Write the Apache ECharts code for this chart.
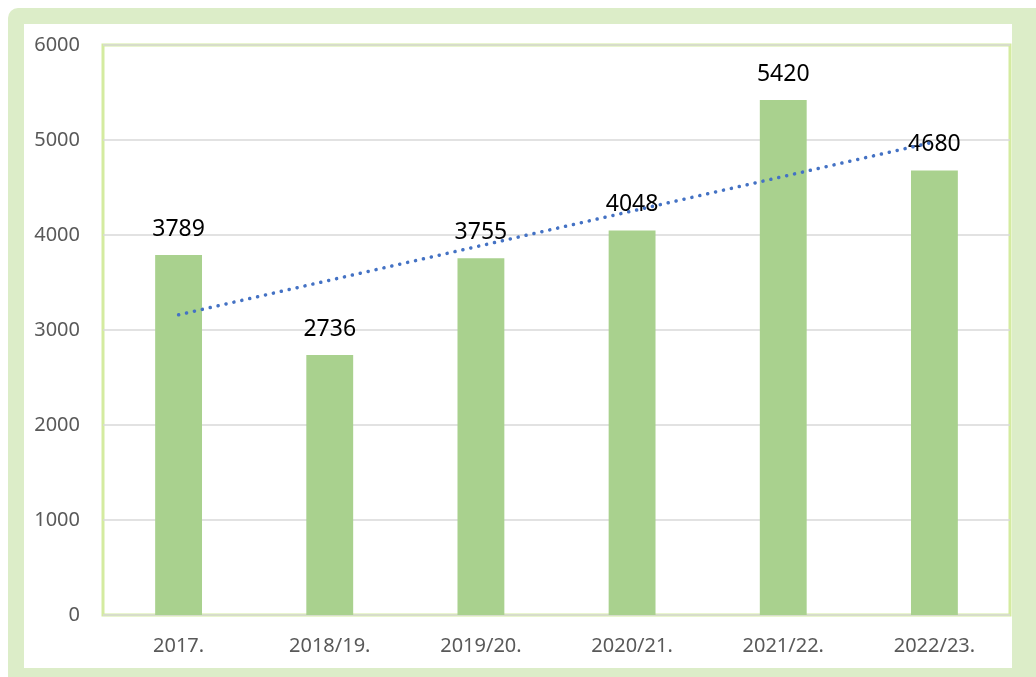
<!DOCTYPE html>
<html>
<head>
<meta charset="utf-8">
<script src="https://cdn.jsdelivr.net/npm/echarts@6/dist/echarts.min.js"></script>
<style>
  html, body { margin: 0; padding: 0; background: #ffffff; overflow: hidden; }
  .frame {
    position: absolute; left: 8px; top: 8px; width: 1040px; height: 680px;
    background: #dcedc8; border-top-left-radius: 10px;
  }
  .inner {
    position: absolute; left: 24px; top: 24px; width: 988px; height: 644px;
    background: #ffffff;
  }
  #chart { position: absolute; left: 0; top: 0; width: 1036px; height: 677px; }
</style>
</head>
<body>
<div class="frame"></div>
<div class="inner"></div>
<div id="chart"></div>
<script>
  // data
  var years = ['2017.', '2018/19.', '2019/20.', '2020/21.', '2021/22.', '2022/23.']
  var counts = [3789, 2736, 3755, 4048, 5420, 4680]
  // linear trend, start and end values
  var trendEnds = [3160, 4980]

  var chart = echarts.init(document.getElementById('chart'))
  var option = {
    animation: false,
    backgroundColor: 'transparent',
    grid: {
      left: 103, top: 45, width: 907, height: 570,
      show: true,
      borderColor: '#d4eba0',
      borderWidth: 3,
      backgroundColor: 'transparent'
    },
    xAxis: {
      type: 'category',
      data: years,
      axisLine: { show: false },
      axisTick: { show: false },
      axisLabel: {
        color: '#595959',
        fontSize: 20,
        fontFamily: 'Noto Sans',
        margin: 21
      }
    },
    yAxis: {
      type: 'value',
      min: 0,
      max: 6000,
      interval: 1000,
      axisLine: { show: false },
      axisTick: { show: false },
      axisLabel: {
        color: '#595959',
        fontSize: 20,
        fontFamily: 'Noto Sans',
        margin: 23,
        formatter: function (v) { return String(v) }
      },
      splitLine: { lineStyle: { color: '#d9d9d9', width: 1.5 } }
    },
    series: [
      {
        type: 'bar',
        data: counts,
        barWidth: '31%',
        itemStyle: { color: '#a9d18e' },
        label: {
          show: true,
          position: 'top',
          distance: 14,
          color: '#000000',
          fontSize: 23,
          fontFamily: 'Noto Sans'
        }
      },
      {
        type: 'line',
        data: [[0, trendEnds[0]], [5, trendEnds[1]]],
        symbol: 'none',
        z: 3,
        lineStyle: {
          color: '#4472c4',
          width: 3.5,
          type: [0.1, 8],
          cap: 'round'
        }
      }
    ]
  }
  chart.setOption(option)
</script>
</body>
</html>
